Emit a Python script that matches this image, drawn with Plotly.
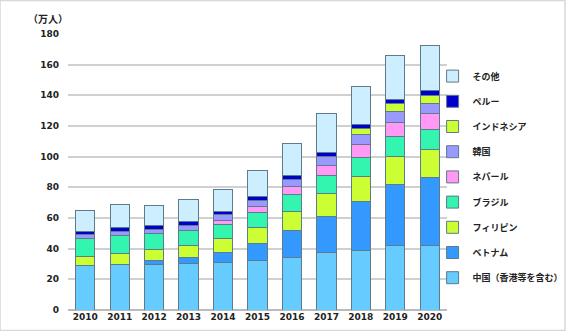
import plotly.graph_objects as go

years = ["2010", "2011", "2012", "2013", "2014", "2015", "2016", "2017", "2018", "2019", "2020"]

china = [28.7, 29.7, 29.6, 30.4, 31.2, 32.3, 34.5, 37.2, 38.9, 41.8, 41.9]
vietnam = [0, 0, 2.7, 3.8, 6.1, 11.0, 17.2, 24.0, 31.7, 40.1, 44.4]
philippines = [6.2, 7.0, 7.3, 8.0, 9.2, 10.7, 12.8, 14.7, 16.4, 18.0, 18.5]
brazil = [11.6, 11.7, 10.2, 9.6, 9.4, 9.7, 10.7, 11.7, 12.7, 13.5, 13.1]
nepal = [0, 0, 0, 0, 2.4, 3.9, 5.3, 6.9, 8.2, 9.2, 10.0]
korea = [2.6, 3.0, 3.0, 3.4, 3.7, 4.1, 4.8, 5.6, 6.3, 6.9, 6.9]
indonesia = [0, 0, 0, 0, 0, 0, 0, 0, 4.2, 5.1, 5.3]
peru = [2.4, 2.4, 2.4, 2.3, 2.3, 2.4, 2.6, 2.8, 2.9, 3.0, 2.9]
other = [13.5, 14.8, 13.0, 14.3, 14.5, 16.7, 20.5, 25.0, 24.7, 28.3, 29.4]

series = [
    ("中国（香港等を含む）", china, "#66CCFF"),
    ("ベトナム", vietnam, "#3399FF"),
    ("フィリピン", philippines, "#CCFF33"),
    ("ブラジル", brazil, "#33F5B0"),
    ("ネパール", nepal, "#FF99F5"),
    ("韓国", korea, "#9999FF"),
    ("インドネシア", indonesia, "#CCFF33"),
    ("ペルー", peru, "#0000CC"),
    ("その他", other, "#CCEEFF"),
]

jp_font = "Noto Sans CJK JP"
num_font = "DejaVu Sans"

fig = go.Figure()
n = len(series)
for i, (name, vals, color) in enumerate(series):
    fig.add_trace(go.Bar(
        x=years, y=vals, name=name, legendgroup=str(i),
        legendrank=100 + (n - i),
        marker=dict(color=color, line=dict(color="#5F7A88", width=1)),
    ))

fig.update_layout(
    barmode="stack",
    bargap=0.44,
    width=566, height=331,
    margin=dict(l=68, r=119, t=34, b=21, autoexpand=False),
    paper_bgcolor="white",
    plot_bgcolor="white",
    showlegend=True,
    legend=dict(
        traceorder="grouped",
        tracegroupgap=6.2,
        x=0.962, y=0.9, xanchor="left", yanchor="top",
        font=dict(family=jp_font, size=9, color="#222222", weight="bold"),
        itemwidth=30,
        bgcolor="rgba(0,0,0,0)",
    ),
    xaxis=dict(
        tickfont=dict(family=num_font, size=9, color="#222222", weight="bold"),
        showline=False, ticks="",
    ),
    yaxis=dict(
        range=[0, 180], dtick=20,
        tickfont=dict(family=num_font, size=9, color="#222222", weight="bold"),
        gridcolor="#D0D0D0", gridwidth=1.5,
        zeroline=True, zerolinecolor="#BBBBBB", zerolinewidth=1.5,
        ticklabelstandoff=8,
    ),
    annotations=[dict(
        text="（万人）", xref="paper", yref="paper", x=-0.11, y=1.02,
        xanchor="left", yanchor="bottom", showarrow=False,
        font=dict(family=jp_font, size=10, color="#222222", weight="bold"),
    )],
    shapes=[dict(
        type="rect", xref="paper", yref="paper",
        x0=-68/379, x1=1 + 118/379, y0=-20.5/276, y1=1 + 33.5/276,
        line=dict(color="#D8D8D8", width=1.5), layer="below",
    )],
)

fig.write_html("out.html")
